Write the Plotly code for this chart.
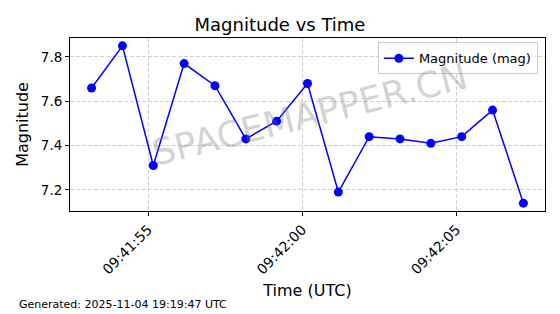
import plotly.graph_objects as go

times = [
    "2025-11-04 09:41:53.170", "2025-11-04 09:41:54.170", "2025-11-04 09:41:55.170",
    "2025-11-04 09:41:56.170", "2025-11-04 09:41:57.170", "2025-11-04 09:41:58.170",
    "2025-11-04 09:41:59.170", "2025-11-04 09:42:00.170", "2025-11-04 09:42:01.170",
    "2025-11-04 09:42:02.170", "2025-11-04 09:42:03.170", "2025-11-04 09:42:04.170",
    "2025-11-04 09:42:05.170", "2025-11-04 09:42:06.170", "2025-11-04 09:42:07.170",
]
magnitudes = [7.66, 7.85, 7.31, 7.77, 7.67, 7.43, 7.51, 7.68, 7.19, 7.44, 7.43, 7.41, 7.44, 7.56, 7.14]
tick_vals = ["2025-11-04 09:41:55", "2025-11-04 09:42:00", "2025-11-04 09:42:05"]
tick_text = ["09:41:55", "09:42:00", "09:42:05"]

FONT = "DejaVu Sans"

fig = go.Figure()
fig.add_trace(go.Scatter(
    x=times, y=magnitudes, mode="lines+markers", name="Magnitude (mag)",
    line=dict(color="#0000ff", width=1.5),
    marker=dict(color="#0000ff", size=9),
))

fig.update_layout(
    width=560, height=314,
    margin=dict(l=70, r=15, t=38, b=103),
    paper_bgcolor="white", plot_bgcolor="white",
    font=dict(family=FONT, color="black", size=13),
    title=dict(text="Magnitude vs Time", x=0.5, xanchor="center", y=0.922, yanchor="middle",
               font=dict(size=18, family=FONT)),
    showlegend=True,
    legend=dict(x=0.985, y=0.975, xanchor="right", yanchor="top",
                bgcolor="rgba(255,255,255,0.8)", bordercolor="#cccccc", borderwidth=1,
                font=dict(size=13, family=FONT)),
    xaxis=dict(
        type="date",
        range=["2025-11-04 09:41:52.47", "2025-11-04 09:42:07.87"],
        tickvals=tick_vals, ticktext=tick_text, tickangle=-45,
        tickfont=dict(size=14, family=FONT),
        showline=True, linecolor="black", linewidth=1, mirror=True,
        ticks="outside", ticklen=4, tickcolor="black",
        showgrid=True, gridcolor="#d0d0d0", griddash="4px,2px", gridwidth=1,
        title=dict(text="Time (UTC)", font=dict(size=16, family=FONT), standoff=8),
        zeroline=False,
    ),
    yaxis=dict(
        range=[7.1045, 7.8855],
        tickvals=[7.2, 7.4, 7.6, 7.8], ticktext=["7.2", "7.4", "7.6", "7.8"],
        tickfont=dict(size=13.5, family=FONT),
        showline=True, linecolor="black", linewidth=1, mirror=True,
        ticks="outside", ticklen=4, tickcolor="black",
        showgrid=True, gridcolor="#d0d0d0", griddash="4px,2px", gridwidth=1,
        title=dict(text="Magnitude", font=dict(size=16, family=FONT), standoff=8),
        zeroline=False,
    ),
)

fig.add_annotation(
    text="SPACEMAPPER.CN", xref="paper", yref="paper", x=0.505, y=0.56,
    showarrow=False, textangle=-14,
    font=dict(size=36, color="rgba(128,128,128,0.35)", family=FONT),
)
fig.add_annotation(
    text="Generated: 2025-11-04 19:19:47 UTC", xref="paper", yref="paper",
    x=-0.1116, y=-0.543, xanchor="left", yanchor="middle", showarrow=False,
    font=dict(size=11, family=FONT, color="black"),
)

fig.write_html("out.html")
